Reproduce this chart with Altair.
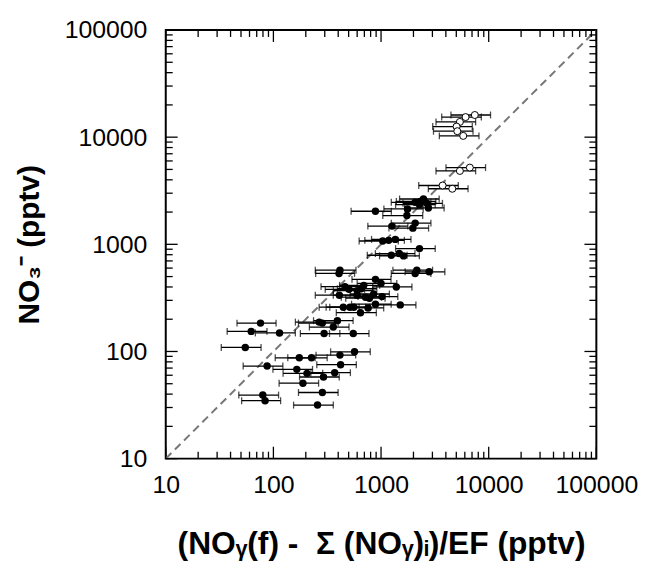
import altair as alt
import pandas as pd

# Filled circles: x (pptv), y NO3- (pptv), x error (pptv)
filled_x = [2477, 2307, 2075, 2660, 2754, 1763, 887, 1738, 2075, 1264, 1974, 1356,
            1177, 1036, 2275, 1476, 1245, 1619, 415, 407, 2149, 2075, 2794, 2275,
            887, 1000, 692, 1386, 462, 503, 600, 653, 855, 410, 1021, 600, 717, 780,
            887, 1508, 446, 514, 559, 758, 644,
            75.9, 266, 285, 393, 360, 62.2, 114, 296, 552, 54.8, 567, 415, 174, 226,
            87.4, 421, 165, 205, 371, 292, 188, 285, 79.7, 83.7, 257]
filled_y = [2648, 2518, 2466, 2414, 2186, 2138, 2036, 1856, 1577, 1479, 1416, 1112,
            1089, 1074, 912, 820, 791, 780, 574, 535, 574, 535, 554, 2344,
            471, 432, 414, 400, 403, 380, 370, 385, 344, 335, 325, 335, 321, 314,
            276, 272, 259, 259, 259, 255, 230,
            184, 188, 184, 194, 169, 154, 149, 147, 147, 109, 99.3, 92.5, 87.3, 87.3,
            73.1, 75.3, 68.1, 62.5, 63.4, 57.8, 50.6, 41.4, 39.2, 34.7, 31.6]
filled_err = [990, 920, 830, 1060, 1100, 700, 360, 700, 830, 510, 790, 540,
              470, 410, 910, 590, 500, 650, 170, 160, 860, 830, 1120, 910,
              350, 400, 280, 550, 185, 200, 240, 260, 340, 165, 410, 240, 290, 310,
              355, 600, 180, 205, 225, 300, 260,
              30, 106, 114, 157, 144, 25, 46, 118, 220, 22, 227, 166, 70, 90,
              35, 168, 66, 82, 148, 117, 75, 114, 32, 33, 103]

# Open circles
open_x = [7430, 6100, 5400, 5030, 5110, 5800, 6680, 5400, 3730, 4590]
open_y = [16100, 15400, 13870, 12560, 11370, 10280, 5200, 4840, 3540, 3300]
open_err = [2970, 2440, 2160, 2010, 2040, 2320, 2670, 2160, 1490, 1840]

major_ticks = [10, 100, 1000, 10000, 100000]
minor_ticks = [m * 10 ** d for d in range(1, 5) for m in range(2, 10)]
one_to_one = [10, 100000]

W, H = 434, 432
LABEL_FONT = "Liberation Sans"
NB = "\u00a0"

filled = pd.DataFrame({"x": filled_x, "y": filled_y, "err": filled_err})
opened = pd.DataFrame({"x": open_x, "y": open_y, "err": open_err})
allpts = pd.concat([filled, opened], ignore_index=True)
allpts["lo"] = allpts["x"] - allpts["err"]
allpts["hi"] = allpts["x"] + allpts["err"]

xs = alt.Scale(type="log", domain=[10, 100000], nice=False)
ys = alt.Scale(type="log", domain=[10, 100000], nice=False)

x_axis = alt.Axis(values=major_ticks, format="d", ticks=False, domain=False, grid=False,
                  labelFont=LABEL_FONT, labelFontSize=25, labelColor="black",
                  labelPadding=14, labelOverlap=False, labelFlush=False,
                  title=f"(NOᵧ(f){NB}-{NB}{NB}Σ{NB}(NOᵧ)ᵢ)/EF{NB}(pptv)", titleFont=LABEL_FONT,
                  titleFontSize=32, titleFontWeight="bold", titleColor="black",
                  titlePadding=32)
y_axis = alt.Axis(values=major_ticks, format="d", ticks=False, domain=False, grid=False,
                  labelFont=LABEL_FONT, labelFontSize=25, labelColor="black",
                  labelPadding=19, labelOverlap=False, labelFlush=False,
                  title="NO₃⁻ (pptv)", titleFont=LABEL_FONT,
                  titleFontSize=30, titleFontWeight="bold", titleColor="black",
                  titlePadding=20)


def X(f):
    return alt.X(f, scale=xs, axis=x_axis)


def Y(f):
    return alt.Y(f, scale=ys, axis=y_axis)


line = alt.Chart(pd.DataFrame({"x": one_to_one, "y": one_to_one})).mark_line(
    color="#777777", strokeDash=[8, 5], strokeWidth=2
).encode(x=X("x:Q"), y=Y("y:Q"))

bars = alt.Chart(allpts).mark_rule(color="black", strokeWidth=1.3).encode(
    x=X("lo:Q"), x2="hi:Q", y=Y("y:Q")
)

caps = alt.Chart(allpts).transform_fold(["lo", "hi"], as_=["end", "xv"]).mark_tick(
    orient="vertical", size=7, thickness=1.3, color="black"
).encode(x=X("xv:Q"), y=Y("y:Q"))

pts_f = alt.Chart(filled).mark_point(filled=True, shape="circle", size=56, color="black",
                                     opacity=1).encode(x=X("x:Q"), y=Y("y:Q"))

pts_o = alt.Chart(opened).mark_point(shape="circle", filled=True, fill="white", stroke="black",
                                     strokeWidth=1, size=50, opacity=1).encode(
    x=X("x:Q"), y=Y("y:Q"))

maj = pd.DataFrame({"t": major_ticks})
mnr = pd.DataFrame({"t": minor_ticks})


def frame_ticks(df, length):
    bottom = alt.Chart(df).mark_rule(color="black", strokeWidth=1.3).encode(
        x=X("t:Q"), y=alt.value(H), y2=alt.value(H - length))
    top = alt.Chart(df).mark_rule(color="black", strokeWidth=1.3).encode(
        x=X("t:Q"), y=alt.value(0), y2=alt.value(length))
    left = alt.Chart(df).mark_rule(color="black", strokeWidth=1.3).encode(
        y=Y("t:Q"), x=alt.value(0), x2=alt.value(length))
    right = alt.Chart(df).mark_rule(color="black", strokeWidth=1.3).encode(
        y=Y("t:Q"), x=alt.value(W), x2=alt.value(W - length))
    return [bottom, top, left, right]


layers = [line, bars, caps, pts_f, pts_o] + frame_ticks(maj, 12) + frame_ticks(mnr, 7)

chart = alt.layer(*layers).properties(
    width=W, height=H,
    background="white",
    autosize=alt.AutoSizeParams(type="none"),
    padding={"left": 159, "top": 20, "right": 44, "bottom": 102},
).configure_view(stroke="black", strokeWidth=2)

chart.save("out.html", embed_options={"renderer": "svg", "actions": False})
